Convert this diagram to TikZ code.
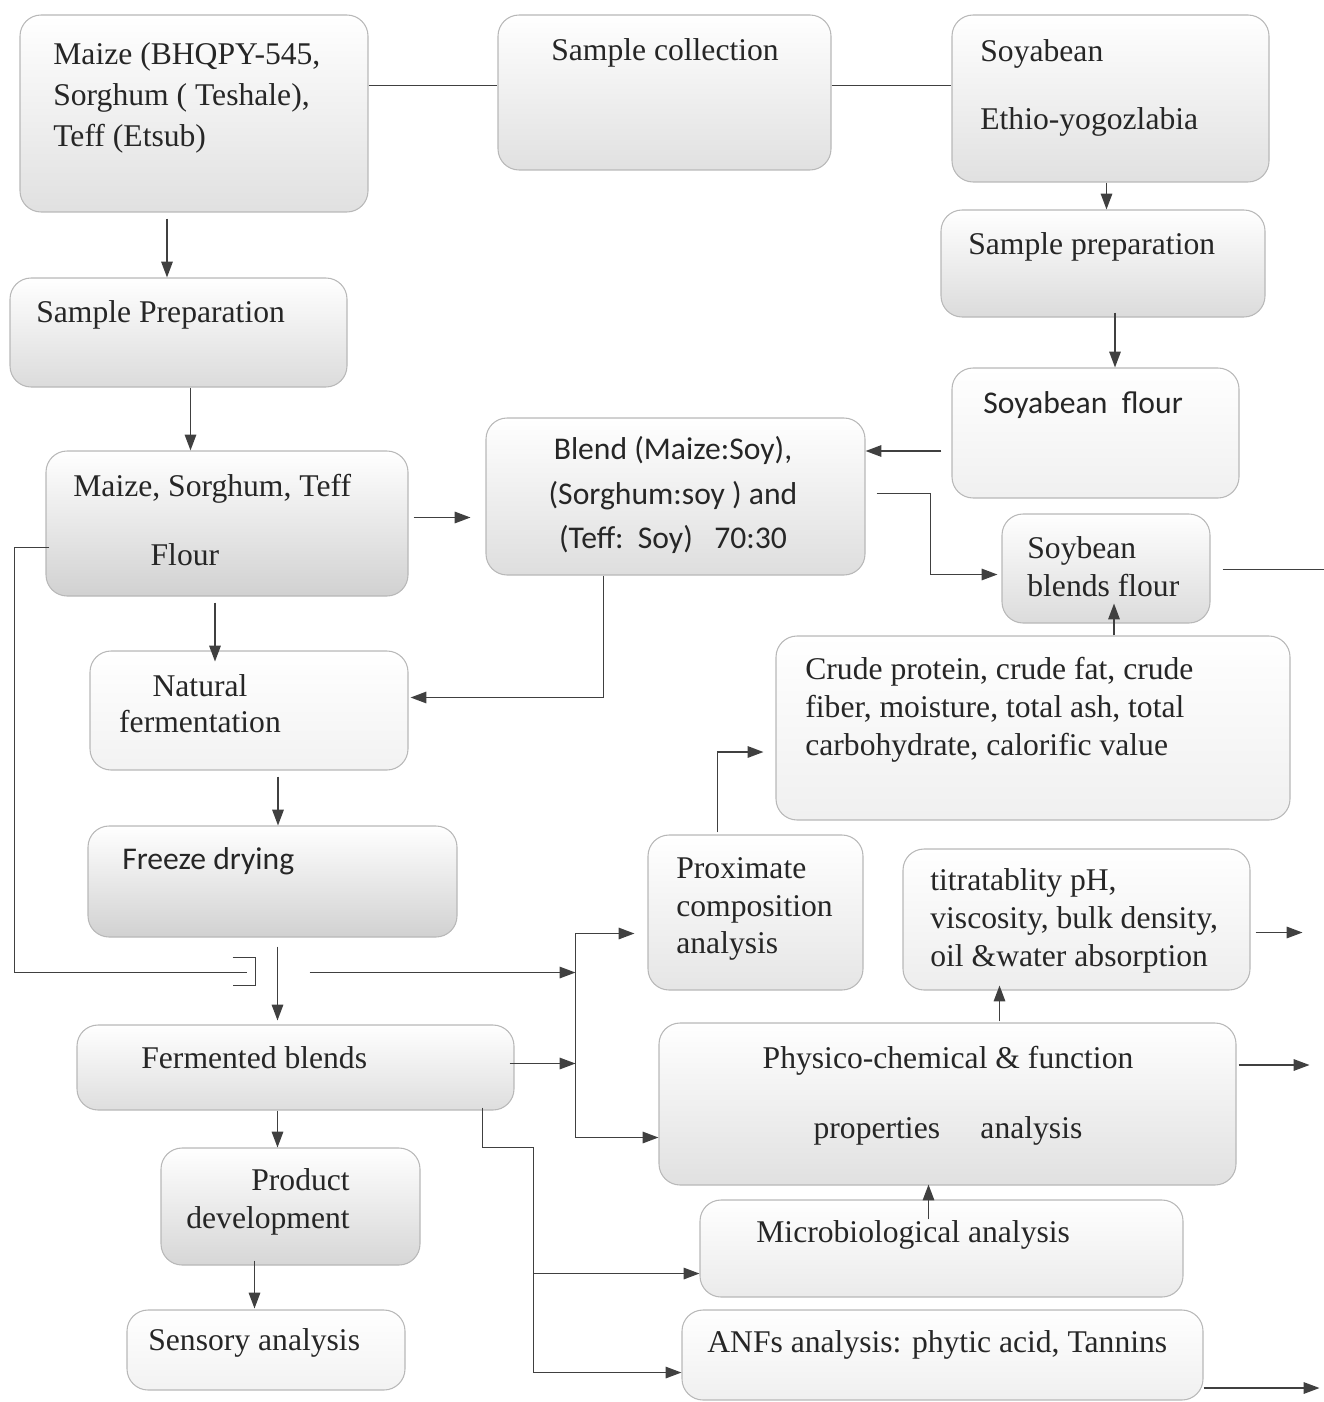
\documentclass[tikz,border=0pt]{standalone}
\usepackage{fontspec}
\setmainfont{Liberation Serif}
\newfontfamily\calib{Carlito}
\usetikzlibrary{arrows.meta,calc,fit}

\begin{document}
\begin{tikzpicture}[x=0.02cm,y=-0.02cm,
  box/.style={draw=black!28,line width=0.6pt,rounded corners=12pt,top color=white,inner sep=0pt},
  txt/.style={text=black!85,font=\fontsize{18}{21.5}\selectfont,inner sep=0pt,align=left},
  ln/.style={draw=black!75,line width=0.9pt},
  arr/.style={ln,-{Triangle[length=9pt,width=6.5pt]}}]
\useasboundingbox (0,0) rectangle (1323,1402);
  \foreach \nm/\ax/\ay/\bx/\by/\sh in {grains/20/15/368/212/12, collect/498/15/831/170/12,
    soya/952/15/1269/182/12, soyprep/941/210/1265/317/14, soyflour/952/368/1239/498/6,
    prep/10/278/347/387/14, flour/46/451/408/596/18, blend/486/418/865/575/13,
    sbf/1002/514/1210/623/14, crude/776/636/1290/820/6, natural/90/651/408/770/5,
    freeze/88/826/457/937/18, prox/648/835/863/990/10, titr/903/849/1250/990/7,
    ferm/77/1025/514/1110/13, phys/659/1023/1236/1185/12, prod/161/1148/420/1265/16,
    micro/700/1200/1183/1297/8, anf/682/1310/1203/1400/6, sens/127/1310/405/1390/5}
  {  \node [box,bottom color=black!\sh,fit={(\ax,\ay) (\bx,\by)}] (\nm) {};}
\node[txt,anchor=west,font=\fontsize{18}{23.3}\selectfont] (grainsT) at (53,98) {Maize (BHQPY-545,\\Sorghum ( Teshale),\\Teff (Etsub)};
\node[txt] (collectT) at (665,53) {Sample collection};
\node[txt,anchor=west,font=\fontsize{18}{39}\selectfont] (soyaT) at (980,88) {Soyabean\\Ethio-yogozlabia};
\node[txt,anchor=west] (soyprepT) at (968,247) {Sample preparation};
\node[txt,anchor=west,font=\calib\fontsize{18}{21.5}\selectfont] (soyflourT) at (983,405) {Soyabean\ \ flour};
\node[txt,anchor=west] (prepT) at (36,315) {Sample Preparation};
\node[txt,anchor=west,font=\fontsize{18}{39.7}\selectfont] (flourT) at (73,520) {Maize, Sorghum, Teff\\\hspace*{44pt}Flour};
\node[txt,align=center,font=\calib\fontsize{18}{25.5}\selectfont] (blendT) at (673,495) {Blend (Maize:Soy),\\(Sorghum:soy ) and\\(Teff:\ \ Soy)\ \ \ 70:30};
\node[txt,anchor=west] (sbfT) at (1027,567) {Soybean\\blends flour};
\node[txt,anchor=west] (crudeT) at (805,710) {Crude protein, crude fat, crude\\fiber, moisture, total ash, total\\carbohydrate, calorific value};
\node[txt,align=center,font=\fontsize{18}{20.5}\selectfont] (naturalT) at (200,704) {Natural\\fermentation};
\node[txt,anchor=west,font=\calib\fontsize{18}{21.5}\selectfont] (freezeT) at (122,861) {Freeze drying};
\node[txt,anchor=west] (fermT) at (141,1058) {Fermented blends};
\node[txt,anchor=west] (prodT) at (186,1202) {\hspace*{37pt}Product\\development};
\node[txt,anchor=west] (sensT) at (148,1343) {Sensory analysis};
\node[txt,anchor=west] (proxT) at (676,909) {Proximate\\composition\\analysis};
\node[txt,anchor=west] (titrT) at (930,921) {titratablity pH,\\viscosity, bulk density,\\oil \&water absorption};
\node[txt,align=center,font=\fontsize{18}{39.7}\selectfont] (physT) at (948,1096) {Physico-chemical \& function\\properties\hspace{23pt}analysis};
\node[txt,anchor=west] (microT) at (756,1235) {Microbiological analysis};
\node[txt,anchor=west] (anfT) at (707,1345) {ANFs analysis: phytic acid, Tannins};
\draw[ln] ($(grains.east)+(0,-28)$) coordinate (t1) -- (t1 -| collect.west);
\draw[ln] (collect.east |- t1) -- (t1 -| soya.west);
\draw[arr] ($(grains.south)+(-27,6)$) coordinate (a) -- (a |- prep.north);
\draw[arr] ($(prep.south)+(12,0)$) coordinate (a) -- (a |- flour.north);
\draw[arr] ($(soya.south)+(-4,0)$) coordinate (a) -- (a |- soyprep.north);
\draw[arr] ($(soyprep.south)+(12,-5)$) coordinate (a) -- (a |- soyflour.north);
\draw[arr] ($(soyflour.west)+(-10,18)$) coordinate (a) -- (a -| blend.east);
\draw[arr] ($(blend.east)+(11,-3)$) -| ($(sbf.west)+(-71,6)$) -- ($(sbf.west)+(-4,6)$);
\draw[arr] ($(crude.north)+(81,0)$) -- ++(0,-32);
\draw[ln] ($(sbf.east)+(12,1)$) -- ++(101,0);
\draw[arr] ($(flour.east)+(5,-6)$) -- ++(57,0);
\draw[arr] ($(flour.south)+(-12,6)$) -- ++(0,59);
\draw[arr] ($(blend.south)+(-72,0)$) |- ($(natural.east)+(2,-13)$);
\draw[arr] ($(natural.south)+(29,6)$) -- ++(0,49);
\draw[arr] ($(freeze.south)+(5,9)$) -- ++(0,74);
\coordinate (jumpL) at ($(freeze.south)+(-26,35)$);
\coordinate (jumpR) at ($(freeze.south)+(37,35)$);
\draw[ln] ($(flour.west)+(4,24)$) -- ++(-35,0) |- (jumpL);
\draw[ln,line width=0.7pt] ($(jumpL)+(-14,-15)$) -- ++(23,0) -- ++(0,28) -- ++(-23,0);
\coordinate (fork) at ($(prox.west)+(-72,21)$);
\draw[ln] (fork) -- ($(fork)+(0,204)$) coordinate (forkB);
\draw[arr] (fork) -- ++(59,0);
\draw[arr] (jumpR) -- (jumpR -| fork);
\draw[arr] ($(ferm.east)+(-5,-4)$) -- ++(66,0);
\draw[arr] (forkB) -- (forkB -| phys.west);
\draw[arr] ($(prox.north)+(-38,-2)$) |- ($(crude.west)+(-12,24)$);
\draw[arr] ($(titr.east)+(5,13)$) -- ++(47,0);
\draw[arr] ($(phys.north)+(52,-1)$) -- ++(0,-36);
\draw[arr] ($(phys.east)+(2,-39)$) -- ++(71,0);
\draw[arr] ($(micro.north)+(-13,20)$) -- ++(0,-35);
\draw[ln] ($(ferm.south)+(187,-3)$) -- ++(0,40) -- ++(51,0) coordinate (fb) -- ++(0,225) coordinate (fbB);
\draw[arr] ($(fb)+(0,126)$) coordinate (a) -- (a -| micro.west);
\draw[arr] (fbB) -- (fbB -| anf.west);
\draw[arr] ($(anf.east)+(0,33)$) -- ++(116,0);
\draw[arr] ($(ferm.south)+(-18,0)$) -- ++(0,37);
\draw[arr] ($(prod.south)+(-36,-5)$) -- ++(0,48);
\end{tikzpicture}
\end{document}
